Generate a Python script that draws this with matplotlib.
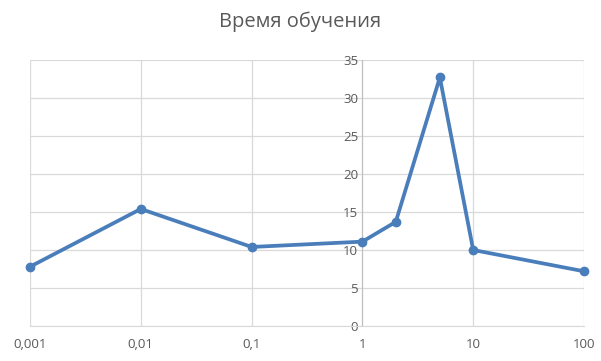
import matplotlib
matplotlib.use("Agg")
import matplotlib.pyplot as plt
from matplotlib.ticker import FixedLocator, FixedFormatter

x_values = [0.001, 0.01, 0.1, 1, 2, 5, 10, 100]
y_values = [7.8, 15.4, 10.4, 11.1, 13.7, 32.7, 10.0, 7.2]
x_ticks = [0.001, 0.01, 0.1, 1, 10, 100]
x_tick_labels = ["0,001", "0,01", "0,1", "1", "10", "100"]
y_ticks = [0, 5, 10, 15, 20, 25, 30, 35]
title = "Время обучения"

plt.rcParams['font.family'] = ['Open Sans', 'DejaVu Sans']
text_color = '#595959'
grid_color = '#d9d9d9'

fig = plt.figure(figsize=(6.01, 3.61), dpi=100)
ax = fig.add_axes([30/601, 1-326/361, (584-30)/601, (326-60)/361])
ax.set_xscale('log')
ax.set_xlim(0.001, 100)
ax.set_ylim(0, 35)

ax.plot(x_values, y_values, color='#4a7ebb', lw=2.7, marker='o', ms=6,
        solid_joinstyle='round', zorder=3, clip_on=False)

ax.xaxis.set_major_locator(FixedLocator(x_ticks))
ax.xaxis.set_major_formatter(FixedFormatter(x_tick_labels))
ax.xaxis.set_minor_locator(FixedLocator([]))
ax.set_yticks(y_ticks)
ax.grid(True, color=grid_color, lw=0.9, zorder=0)
ax.set_axisbelow(True)

for s in ['top', 'right']:
    ax.spines[s].set_visible(False)
ax.spines['left'].set_position(('data', 1))
ax.spines['left'].set_color('#bfbfbf')
ax.spines['bottom'].set_color(grid_color)
ax.tick_params(axis='both', length=0, labelsize=9.5, colors=text_color)
ax.tick_params(axis='x', pad=9)
ax.tick_params(axis='y', pad=3)

fig.text(0.5, 1-22/361, title, ha='center', va='center', fontsize=14.5, color=text_color)

fig.savefig('out.png', dpi=100)
